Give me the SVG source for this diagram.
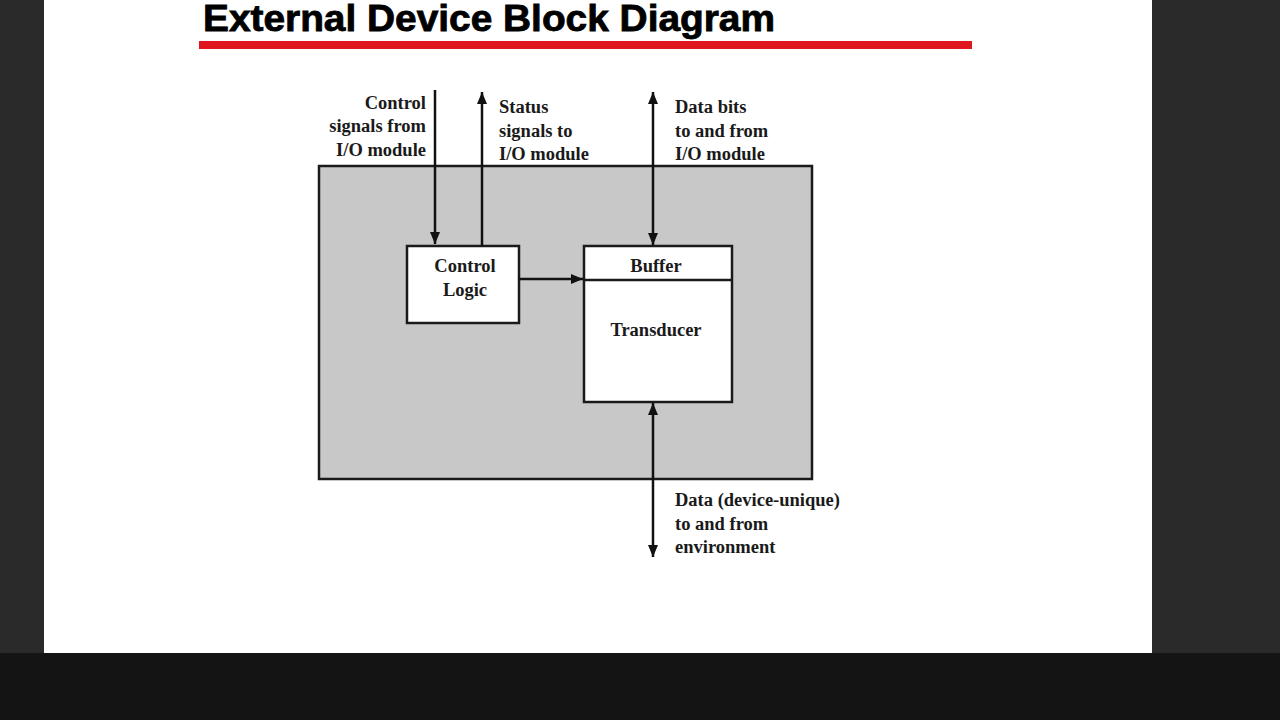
<svg xmlns="http://www.w3.org/2000/svg" width="1280" height="720" viewBox="0 0 1280 720">
<defs>
<marker id="ah" viewBox="0 0 12 10" refX="12" refY="5" markerWidth="12" markerHeight="10" markerUnits="userSpaceOnUse" orient="auto-start-reverse">
<path d="M0,0 L12,5 L0,10 z" fill="#111"/>
</marker>
<style>
.lbl{font-family:"Liberation Serif","Times New Roman",serif;font-size:18.5px;font-weight:bold;fill:#1a1a1a}
.box{fill:#fff;stroke:#1a1a1a;stroke-width:2.5}
.conn{stroke:#111;stroke-width:2.5;fill:none}
</style>
</defs>
<rect x="0" y="0" width="1280" height="720" fill="#141414"/>
<rect x="0" y="0" width="44" height="653" fill="#2a2a2a"/>
<rect x="1152" y="0" width="128" height="653" fill="#2a2a2a"/>
<rect x="44" y="0" width="1108" height="653" fill="#ffffff"/>
<g id="title">
<text x="203" y="31" font-family="'Liberation Sans',Arial,sans-serif" font-weight="bold" font-size="36" textLength="572" lengthAdjust="spacingAndGlyphs" fill="#000" stroke="#000" stroke-width="0.8">External Device Block Diagram</text>
<rect x="199" y="41" width="773" height="8" fill="#e0161e"/>
</g>
<g id="device">
<rect x="319" y="166" width="493" height="313" fill="#c8c8c8" stroke="#1a1a1a" stroke-width="2.5"/>
</g>
<g id="control-logic">
<rect class="box" x="407" y="246" width="112" height="77"/>
<text class="lbl" x="465" y="272" text-anchor="middle">Control</text>
<text class="lbl" x="465" y="296" text-anchor="middle">Logic</text>
</g>
<g id="buffer-transducer">
<rect class="box" x="584" y="246" width="148" height="156"/>
<line x1="584" y1="280" x2="732" y2="280" stroke="#1a1a1a" stroke-width="2.5"/>
<text class="lbl" x="656" y="272" text-anchor="middle">Buffer</text>
<text class="lbl" x="656" y="336" text-anchor="middle">Transducer</text>
</g>
<g id="connectors">
<line class="conn" x1="435" y1="90" x2="435" y2="244" marker-end="url(#ah)"/>
<line class="conn" x1="482" y1="246" x2="482" y2="92" marker-end="url(#ah)"/>
<line class="conn" x1="653" y1="92" x2="653" y2="245" marker-start="url(#ah)" marker-end="url(#ah)"/>
<line class="conn" x1="519" y1="279" x2="583" y2="279" marker-end="url(#ah)"/>
<line class="conn" x1="653" y1="403" x2="653" y2="557" marker-start="url(#ah)" marker-end="url(#ah)"/>
</g>
<g id="labels">
<text class="lbl" text-anchor="end"><tspan x="426" y="109">Control</tspan><tspan x="426" y="132">signals from</tspan><tspan x="426" y="156">I/O module</tspan></text>
<text class="lbl"><tspan x="499" y="113">Status</tspan><tspan x="499" y="137">signals to</tspan><tspan x="499" y="160">I/O module</tspan></text>
<text class="lbl"><tspan x="675" y="113">Data bits</tspan><tspan x="675" y="137">to and from</tspan><tspan x="675" y="160">I/O module</tspan></text>
<text class="lbl"><tspan x="675" y="506">Data (device-unique)</tspan><tspan x="675" y="530">to and from</tspan><tspan x="675" y="553">environment</tspan></text>
</g>
</svg>
